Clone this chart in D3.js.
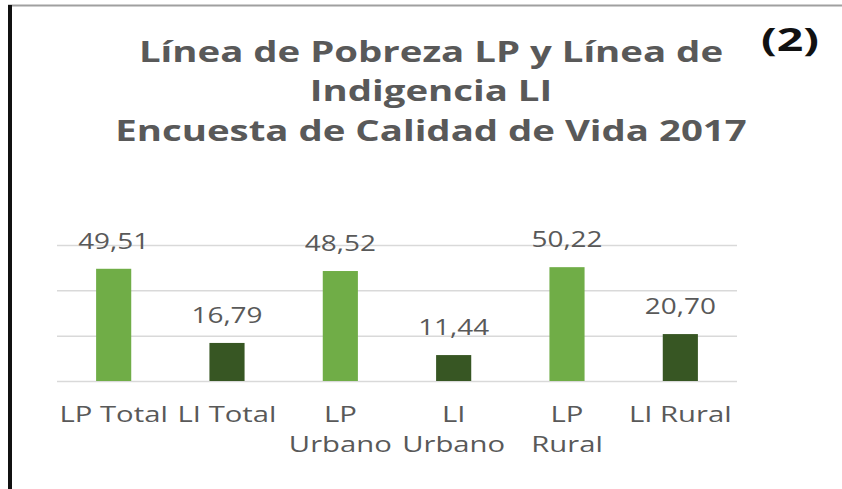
<!DOCTYPE html>
<html>
<head>
<meta charset="utf-8">
<script src="https://cdn.jsdelivr.net/npm/d3@7"></script>
<style>
  body { margin: 0; background: #fff; }
  svg { display: block; font-family: "Open Sans", sans-serif; }
</style>
</head>
<body>
<div class="chart"></div>
<script>
// data
const categories = [['LP Total'], ['LI Total'], ['LP', 'Urbano'], ['LI', 'Urbano'], ['LP', 'Rural'], ['LI Rural']];
const values = [49.51, 16.79, 48.52, 11.44, 50.22, 20.70];
const kinds = ['LP', 'LI', 'LP', 'LI', 'LP', 'LI'];
const yTicks = [0, 20, 40, 60];
const titleLines = ['Línea de Pobreza LP y Línea de', 'Indigencia LI', 'Encuesta de Calidad de Vida 2017'];

const width = 842;
const height = 489;
const plot = {left: 57, right: 737, top: 245, bottom: 381};
// the source screenshot is stretched sideways
const stretch = 1.33;

const fmt = v => v.toFixed(2).replace('.', ',');

const svg = d3.select('.chart').append('svg')
  .attr('width', width).attr('height', height);

// frame lines of the cropped screenshot
svg.append('line')
  .attr('x1', 8).attr('x2', width).attr('y1', 5.5).attr('y2', 5.5)
  .attr('stroke', '#a0a0a0').attr('stroke-width', 2);
svg.append('line')
  .attr('x1', 10).attr('x2', 10).attr('y1', 5).attr('y2', height)
  .attr('stroke', '#111').attr('stroke-width', 4);

// title
svg.append('g').selectAll('text').data(titleLines)
  .enter().append('text')
  .attr('transform', (d, i) => `translate(431,${62 + i * 39.3}) scale(1.37,1)`)
  .attr('text-anchor', 'middle')
  .attr('font-size', 28)
  .attr('font-weight', 'bold')
  .attr('fill', '#595959')
  .text(d => d);

svg.append('text')
  .attr('transform', 'translate(761,51) scale(1.45,1)')
  .attr('font-size', 32).attr('font-weight', 'bold')
  .attr('fill', '#111')
  .text('(2)');

const x = d3.scaleBand().domain(d3.range(categories.length))
  .range([plot.left, plot.right])
  .paddingInner(0.69).paddingOuter(0.345);
const y = d3.scaleLinear().domain([0, 60]).range([plot.bottom, plot.top]);
const color = d3.scaleOrdinal().domain(['LP', 'LI']).range(['#70ad47', '#375623']);
const cx = i => x(i) + x.bandwidth() / 2;

// gridlines
svg.append('g')
  .attr('transform', `translate(${plot.left},0)`)
  .call(d3.axisLeft(y).tickValues(yTicks).tickSize(-(plot.right - plot.left)).tickFormat(''))
  .call(g => g.select('.domain').remove())
  .call(g => g.selectAll('line').attr('stroke', '#d9d9d9').attr('stroke-width', 1.5));

svg.selectAll('.bar').data(values)
  .enter().append('rect')
  .attr('class', 'bar')
  .attr('x', (d, i) => x(i))
  .attr('width', x.bandwidth())
  .attr('y', d => y(d))
  .attr('height', d => y(0) - y(d))
  .attr('fill', (d, i) => color(kinds[i]));

svg.selectAll('.val').data(values)
  .enter().append('text')
  .attr('class', 'val')
  .attr('transform', (d, i) => `translate(${cx(i)},${y(d) - 20}) scale(${stretch},1)`)
  .attr('text-anchor', 'middle')
  .attr('font-size', 21)
  .attr('fill', '#595959')
  .text(fmt);

// category labels, one text per line
const catLines = categories.flatMap((lines, i) => lines.map((t, j) => ({t, i, j})));
svg.selectAll('.cat').data(catLines)
  .enter().append('text')
  .attr('class', 'cat')
  .attr('transform', d => `translate(${cx(d.i)},${422 + d.j * 30}) scale(${stretch},1)`)
  .attr('text-anchor', 'middle')
  .attr('font-size', 22)
  .attr('fill', '#595959')
  .text(d => d.t);
</script>
</body>
</html>
